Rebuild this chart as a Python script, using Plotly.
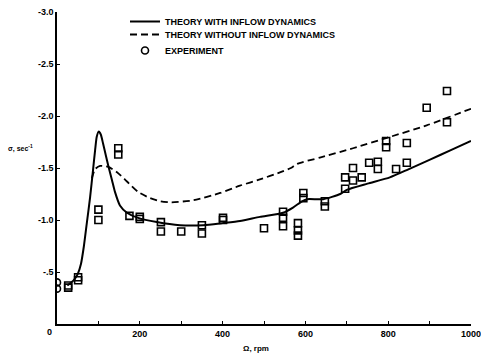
import plotly.graph_objects as go

# Theory with inflow dynamics (solid)
with_rpm = [25, 40, 50, 58, 65, 72, 80, 87, 92, 96, 101, 106, 111, 118, 124, 133, 140, 152, 169, 196,
            241, 297, 353, 400, 442, 490, 546, 570, 592, 604, 643, 684, 700, 750, 804, 850, 901, 950, 1000]
with_sigma = [-0.37, -0.42, -0.48, -0.58, -0.75, -0.97, -1.22, -1.48, -1.67, -1.80, -1.85, -1.82, -1.74,
              -1.62, -1.52, -1.38, -1.27, -1.14, -1.07, -1.02, -0.98, -0.95, -0.95, -0.97, -0.99, -1.03,
              -1.07, -1.12, -1.18, -1.20, -1.20, -1.25, -1.29, -1.35, -1.41, -1.49, -1.58, -1.67, -1.76]

# Theory without inflow dynamics (dashed)
without_rpm = [84, 92, 104, 124, 145, 169, 196, 225, 250, 275, 330, 394, 442, 490, 540, 565, 580,
               635, 715, 797, 893, 1000]
without_sigma = [-1.40, -1.49, -1.52, -1.51, -1.46, -1.37, -1.27, -1.21, -1.18, -1.17, -1.19, -1.26,
                 -1.33, -1.39, -1.46, -1.50, -1.54, -1.60, -1.69, -1.79, -1.91, -2.07]

# Experiment
exp_rpm = [0, 0, 27, 27, 51, 51, 100, 100, 148, 148, 175, 200, 200, 251, 251, 300, 350, 350, 401, 401,
           500, 546, 546, 546, 582, 582, 582, 595, 595, 647, 647, 696, 696, 715, 715, 736, 754, 775, 775,
           795, 795, 819, 845, 845, 893, 942, 942]
exp_sigma = [-0.40, -0.34, -0.37, -0.35, -0.45, -0.42, -1.10, -1.00, -1.69, -1.63, -1.04, -1.03, -1.01,
             -0.98, -0.89, -0.89, -0.95, -0.87, -1.02, -1.00, -0.92, -1.08, -1.02, -0.94, -0.97, -0.90,
             -0.85, -1.26, -1.21, -1.18, -1.13, -1.41, -1.30, -1.50, -1.38, -1.41, -1.55, -1.56, -1.49,
             -1.76, -1.70, -1.49, -1.74, -1.55, -2.08, -2.24, -1.94]

y_tickvals = [-3.0, -2.5, -2.0, -1.5, -1.0, -0.5]
y_ticktext = ["-3.0", "-2.5", "-2.0", "-1.5", "-1.0", "-.5"]
x_tickvals = [0, 100, 200, 300, 400, 500, 600, 700, 800, 900, 1000]
x_ticktext = ["", "", "200", "", "400", "", "600", "", "800", "", "1000"]

names = ["THEORY WITH INFLOW DYNAMICS", "THEORY WITHOUT INFLOW DYNAMICS", "EXPERIMENT"]

FONT = "Liberation Sans"
PLOT_H = 312
PLOT_W = 414

exp_symbols = ["circle-open"] * 2 + ["square-open"] * (len(exp_rpm) - 2)

fig = go.Figure()
fig.add_trace(go.Scatter(x=with_rpm, y=with_sigma, mode="lines", name=names[0], legend="legend",
                         line=dict(color="black", width=2, shape="spline", smoothing=0.6)))
fig.add_trace(go.Scatter(x=without_rpm, y=without_sigma, mode="lines", name=names[1], legend="legend2",
                         line=dict(color="black", width=1.8, dash="7px,4px", shape="spline", smoothing=0.6)))
fig.add_trace(go.Scatter(x=exp_rpm, y=exp_sigma, mode="markers", name=names[2], legend="legend3",
                         marker=dict(symbol=exp_symbols, size=7, color="black", line=dict(width=1.6))))


def legend_at(row_px):
    top_px = row_px - 12 - 17
    return dict(x=(125 - 57) / PLOT_W, y=1 - top_px / PLOT_H, xanchor="left", yanchor="top",
                font=dict(family=FONT, size=9, weight="bold"),
                bgcolor="rgba(0,0,0,0)", itemwidth=30)


fig.update_layout(
    width=481, height=355,
    margin=dict(l=57, r=10, t=12, b=31, autoexpand=False),
    plot_bgcolor="white", paper_bgcolor="white",
    font=dict(family=FONT, color="black", size=9, weight="bold"),
    showlegend=True,
    legend=legend_at(24),
    legend2=legend_at(37),
    legend3=legend_at(53),
    xaxis=dict(range=[0, 1000], showgrid=False, zeroline=False, showline=True, linecolor="black",
               linewidth=1.5, ticks="inside", ticklen=3, tickcolor="black", tickwidth=1,
               tickvals=x_tickvals, ticktext=x_ticktext, tickfont=dict(size=9, weight="bold"),
               ticklabeloverflow="allow", automargin=False),
    yaxis=dict(range=[0, -3.0], showgrid=False, zeroline=False, showline=True, linecolor="black",
               linewidth=1.5, ticks="inside", ticklen=3, tickcolor="black", tickwidth=1,
               tickvals=y_tickvals, ticktext=y_ticktext, tickfont=dict(size=9, weight="bold"),
               ticklabeloverflow="allow", automargin=False),
    annotations=[
        dict(text="σ, sec<sup>-1</sup>", xref="paper", yref="y", x=-37 / PLOT_W, y=-1.69,
             xanchor="center", showarrow=False, font=dict(size=7, weight="bold")),
        dict(text="Ω, rpm", xref="x", yref="paper", x=481, y=-0.077, yanchor="middle",
             xanchor="center", showarrow=False, font=dict(size=8, weight="bold")),
        dict(text="0", xref="paper", yref="paper", x=-8 / PLOT_W, y=-8 / PLOT_H, yanchor="middle",
             xanchor="center", showarrow=False, font=dict(size=9, weight="bold")),
    ],
)

fig.write_html("out.html")
